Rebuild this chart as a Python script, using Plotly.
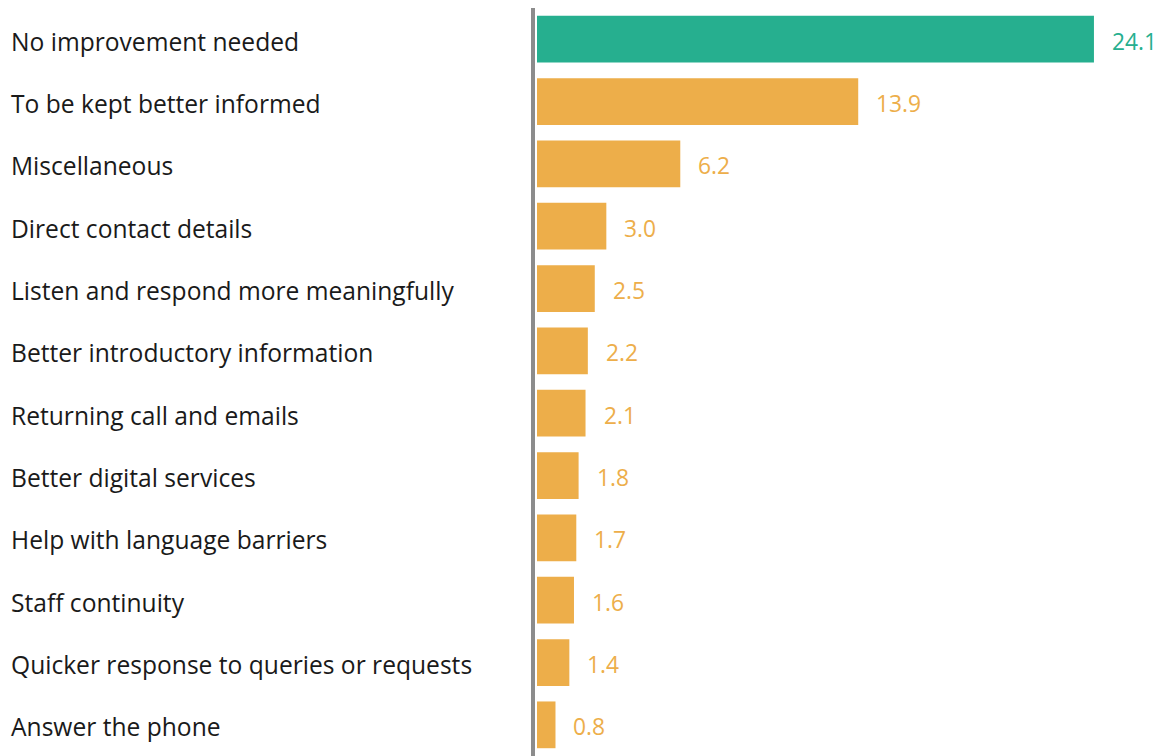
import plotly.graph_objects as go

categories = [
    "No improvement needed",
    "To be kept better informed",
    "Miscellaneous",
    "Direct contact details",
    "Listen and respond more meaningfully",
    "Better introductory information",
    "Returning call and emails",
    "Better digital services",
    "Help with language barriers",
    "Staff continuity",
    "Quicker response to queries or requests",
    "Answer the phone",
]
values = [24.1, 13.9, 6.2, 3.0, 2.5, 2.2, 2.1, 1.8, 1.7, 1.6, 1.4, 0.8]

TEAL = "#26AF8F"
ORANGE = "#EDAE4A"
colors = [TEAL] + [ORANGE] * (len(values) - 1)

FONT = "Open Sans"
W, H = 1164, 756
ML, MR, MT, MB = 535, 0, 8, 0
PX_PER_UNIT = 23.11
x0 = -2 / PX_PER_UNIT
x1 = x0 + (W - ML - MR) / PX_PER_UNIT

fig = go.Figure(
    go.Bar(
        x=values,
        y=categories,
        orientation="h",
        marker=dict(color=colors, line=dict(width=0)),
        hoverinfo="skip",
    )
)

annotations = []
# value labels just past each bar end
for cat, val, col in zip(categories, values, colors):
    annotations.append(dict(
        x=val, y=cat, xref="x", yref="y",
        text=f"{val:.1f}", showarrow=False,
        xanchor="left", yanchor="middle", xshift=16, yshift=-2,
        font=dict(family=FONT, size=22.8, color=col),
    ))
# category labels, left aligned at the page edge
for cat in categories:
    annotations.append(dict(
        x=(9 - ML) / (W - ML - MR), y=cat, xref="paper", yref="y",
        text=cat, showarrow=False,
        xanchor="left", yanchor="middle", yshift=-2,
        font=dict(family=FONT, size=24.6, color="#1a1a1a"),
    ))

fig.update_layout(
    width=W, height=H,
    margin=dict(l=ML, r=MR, t=MT, b=MB, pad=0),
    paper_bgcolor="white", plot_bgcolor="white",
    bargap=0.25,
    showlegend=False,
    annotations=annotations,
    xaxis=dict(range=[x0, x1], visible=False, fixedrange=True),
    yaxis=dict(
        autorange="reversed", showticklabels=False, ticks="",
        showgrid=False, zeroline=False,
        showline=True, linecolor="#8C8C8C", linewidth=4,
        fixedrange=True,
    ),
)

fig.write_html("out.html")
